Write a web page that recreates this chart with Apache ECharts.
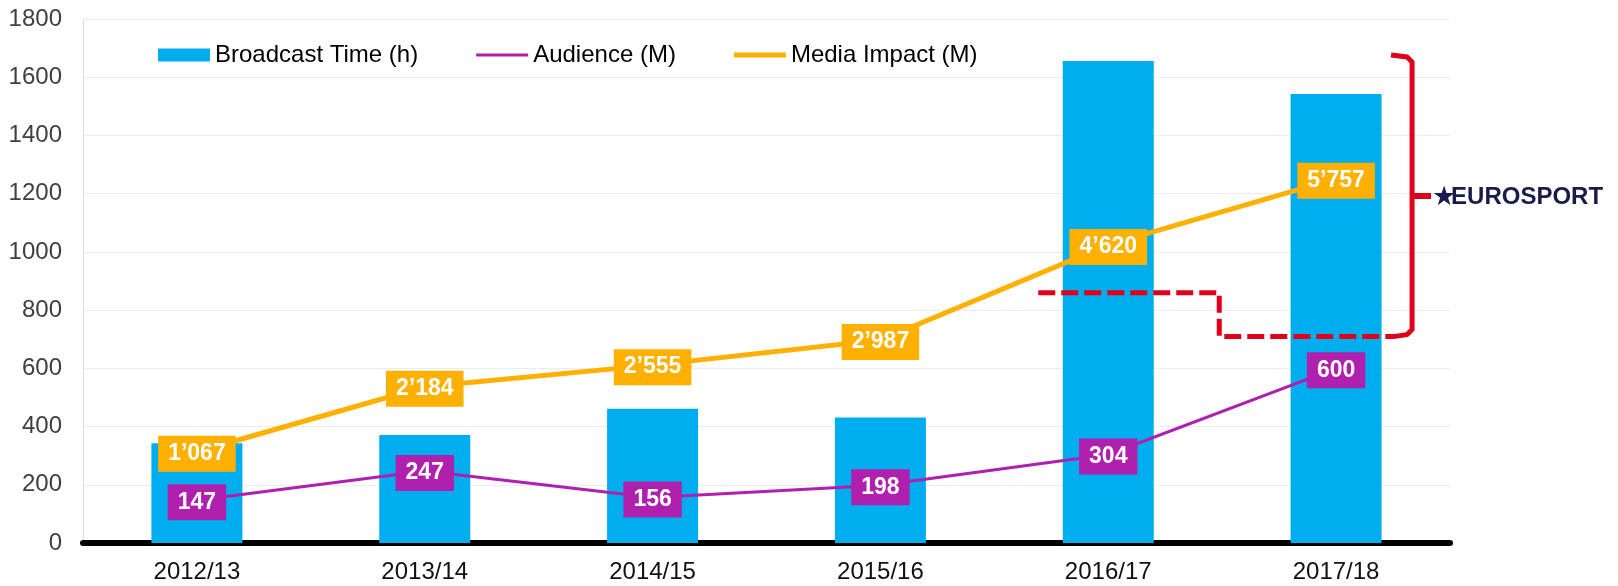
<!DOCTYPE html>
<html>
<head>
<meta charset="utf-8">
<script src="https://cdn.jsdelivr.net/npm/echarts@6/dist/echarts.min.js"></script>
<style>
  html, body { margin: 0; padding: 0; background: #fff; }
  #chart { width: 1618px; height: 586px; }
</style>
</head>
<body>
<div id="chart"></div>
<script>
// seasons on the x axis
const categories = ['2012/13', '2013/14', '2014/15', '2015/16', '2016/17', '2017/18'];
// Broadcast Time (h), left axis
const broadcastTime = [343, 371, 461, 431, 1656, 1542];
// Audience (M), left axis
const audience = [147, 247, 156, 198, 304, 600];
// Media Impact (M), hidden second axis
const mediaImpact = [1067, 2184, 2555, 2987, 4620, 5757];

const FONT = '"Liberation Sans", Arial, sans-serif';
const BLUE = '#00AEEF';
const PURPLE = '#B020AE';
const ORANGE = '#FFB000';
const RED = '#DF0019';
const NAVY = '#1B1B4B';

function thousands(v) {
  return String(v).replace(/\B(?=(\d{3})+(?!\d))/g, '\u2019');
}

const chart = echarts.init(document.getElementById('chart'));

const boxLabel = function(color) {
  return {
    show: true,
    position: 'inside',
    offset: [0, 2],
    color: '#fff',
    fontFamily: FONT,
    fontWeight: 'bold',
    fontSize: 23,
    lineHeight: 24,
    backgroundColor: color,
    padding: [6, 10, 6, 10],
  };
};

let option = {
  animation: false,
  textStyle: { fontFamily: FONT },
  grid: { left: 83, right: 168, top: 19, bottom: 43, containLabel: false },
  legend: {
    left: 153,
    top: 38,
    itemWidth: 52,
    itemHeight: 13,
    itemGap: 58,
    textStyle: { fontSize: 24, color: '#000', fontFamily: FONT },
    data: [
      { name: 'Broadcast Time (h)', icon: 'rect' },
      { name: 'Audience (M)', icon: 'path://M0,0H52V3H0Z' },
      { name: 'Media Impact (M)', icon: 'path://M0,0H52V5H0Z' },
    ],
  },
  xAxis: {
    type: 'category',
    data: categories,
    axisLine: { lineStyle: { color: '#000', width: 6 } },
    axisTick: { show: false },
    axisLabel: { fontSize: 24, color: '#111', margin: 17, fontFamily: FONT },
  },
  yAxis: [
    {
      type: 'value',
      min: 0,
      max: 1800,
      interval: 200,
      axisLine: { show: true, lineStyle: { color: '#dcdcdc', width: 1 } },
      axisTick: { show: false },
      axisLabel: {
        fontSize: 24,
        color: '#404040',
        margin: 21,
        fontFamily: FONT,
        formatter: function(v) { return String(v); },
      },
      splitLine: { lineStyle: { color: '#ececec', width: 1 } },
    },
    {
      // media impact scale, not drawn
      type: 'value',
      min: -500,
      max: 8500,
      interval: 500,
      show: false,
      splitLine: { show: false },
    },
  ],
  series: [
    {
      name: 'Broadcast Time (h)',
      type: 'bar',
      barWidth: 91,
      itemStyle: { color: BLUE },
      data: broadcastTime,
    },
    {
      name: 'Audience (M)',
      type: 'line',
      symbol: 'circle',
      symbolSize: 1,
      showSymbol: true,
      lineStyle: { color: PURPLE, width: 3 },
      itemStyle: { color: PURPLE },
      label: boxLabel(PURPLE),
      data: audience,
    },
    {
      name: 'Media Impact (M)',
      type: 'line',
      yAxisIndex: 1,
      symbol: 'circle',
      symbolSize: 1,
      showSymbol: true,
      lineStyle: { color: ORANGE, width: 5 },
      itemStyle: { color: ORANGE },
      label: Object.assign(boxLabel(ORANGE), {
        formatter: function(p) { return thousands(p.value); },
      }),
      data: mediaImpact,
    },
  ],
};
chart.setOption(option);

// red annotation: dashed step and bracket round the Eurosport seasons
const yPx = function(v) { return chart.convertToPixel({ yAxisIndex: 0 }, v); };
const xPx = function(c) { return chart.convertToPixel({ xAxisIndex: 0 }, c); };

const x1617 = xPx('2016/17');
const x1718 = xPx('2017/18');
const yUpper = yPx(860);
const yLower = yPx(709);
const yTop = yPx(1676);
const yMid = yPx(1192);
const xStart = x1617 - 70;
const xStep = x1617 + 111;
const xEnd = x1718 + 59;
const xBrace = x1718 + 76;

chart.setOption({
  graphic: [
    {
      type: 'polyline',
      shape: { points: [[xStart, yUpper], [xStep, yUpper], [xStep, yLower], [xEnd, yLower]] },
      style: { stroke: RED, lineWidth: 5, fill: null, lineDash: [17, 6] },
      z: 10,
    },
    {
      type: 'polyline',
      shape: {
        points: [
          [xEnd - 2, yLower], [xBrace - 5, yLower - 2], [xBrace, yLower - 7],
          [xBrace, yTop + 7], [xBrace - 5, yTop + 2], [xBrace - 21, yTop],
        ],
      },
      style: { stroke: RED, lineWidth: 5, fill: null, lineJoin: 'round' },
      z: 10,
    },
    {
      type: 'line',
      shape: { x1: xBrace, y1: yMid, x2: xBrace + 19, y2: yMid },
      style: { stroke: RED, lineWidth: 6 },
      z: 10,
    },
    {
      type: 'text',
      x: xBrace + 20,
      y: yMid + 2,
      style: {
        text: '\u2605',
        fill: NAVY,
        font: '27px "DejaVu Sans", sans-serif',
        verticalAlign: 'middle',
      },
      z: 11,
    },
    {
      type: 'text',
      x: xBrace + 39,
      y: yMid + 1,
      style: {
        text: 'EUROSPORT',
        fill: NAVY,
        font: 'bold 24px ' + FONT,
        verticalAlign: 'middle',
      },
      z: 10,
    },
  ],
});
</script>
</body>
</html>
